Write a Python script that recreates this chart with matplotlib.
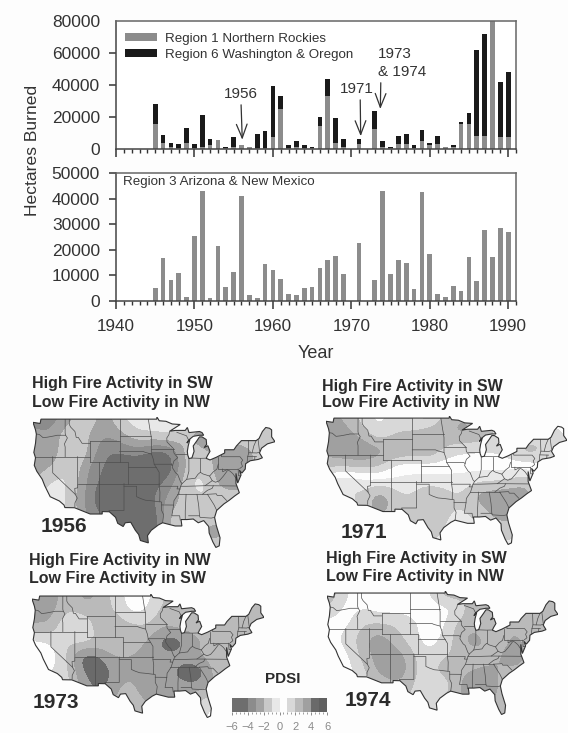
import numpy as np
import matplotlib
matplotlib.use("Agg")
import matplotlib.pyplot as plt
from matplotlib.colors import ListedColormap, BoundaryNorm
from matplotlib.patches import Polygon

plt.rcParams["font.family"] = ["Liberation Sans", "DejaVu Sans"]

W, H = 568, 733
TEXT = "#333333"

# burned area, 1945-1990
years = list(range(1945, 1991))
region1 = [15600, 3500, 1000, 800, 4000, 500, 1000, 2500, 5400, 800,
           1000, 2300, 1400, 500, 500, 7300, 24800, 800, 1200, 500,
           500, 14500, 33300, 3500, 1000, 0, 2900, 0, 12500, 1000,
           500, 3100, 3300, 500, 4800, 2300, 3100, 1000, 1000, 15600,
           15400, 8300, 8100, 80000, 7300, 7300]
region6 = [12400, 5200, 3000, 2300, 8900, 2600, 20200, 4000, 0, 400,
           6500, 0, 0, 8900, 10500, 32300, 8200, 1900, 3600, 1800,
           1000, 5300, 10400, 16100, 5000, 0, 3600, 0, 11000, 3800,
           900, 5000, 6300, 2000, 7300, 1400, 5000, 0, 1700, 1300,
           7100, 53600, 63600, 0, 34700, 40700]
region3 = [5200, 16700, 8300, 10900, 1600, 25300, 43100, 1200, 21400, 5600,
           11200, 41000, 2300, 1000, 14500, 12000, 8600, 2900, 2200, 5100,
           5600, 12900, 16100, 17400, 10400, 0, 22700, 0, 8100, 42800,
           10400, 16000, 14800, 4800, 42600, 18200, 2700, 1600, 5900, 3800,
           17300, 7700, 27600, 17000, 28500, 27100]

# PDSI on a coarse lon/lat grid
grid_lon = [-124, -120, -116, -112, -108, -104, -100, -96, -92, -88, -84, -80, -76, -72, -68]
grid_lat = [49, 46, 43, 40, 37, 34, 31, 28, 25]
pdsi_1956 = [
    [-3.5, -3.5, -2.5, -0.5, -3, -1, -0.5, -0.5, -0.5, -1, -1, -1, -1, -1, -1],
    [-2.5, -3, -0.5, -2, -3, -2.5, -1, -1, -0.5, -2, -3, -2, -1, -1, -1],
    [-3, -3, -0.5, -1.5, -4, -4, -3.5, -4.5, -4.5, -1, -2, -2, -3, -2, -1],
    [-2.5, -2, -0.5, -3, -4, -5, -5, -5, -5, -1.5, -1, -3, -3, -2, -1],
    [-2, -0.5, -1, -3, -4.5, -5, -5, -4.5, -3.5, -1, -0.5, -2.5, -3, -2, -1],
    [-0.5, -0.5, -1, -3.5, -5, -5, -5.5, -4, -2.5, -1.5, -1, -1, -1, -1, -1],
    [-0.5, -0.5, -1, -3, -4, -5, -5.5, -5, -1.5, -1.5, -1.5, -1.5, -1, -1, -1],
    [-0.5, -0.5, -1, -3, -4, -5, -5.5, -5, -1.5, -1.5, -2, -3, -1, -1, -1],
    [-0.5, -0.5, -1, -3, -4, -5, -5, -5, -1.5, -1.5, -2, -1, -1, -1, -1],
]
pdsi_1971 = [
    [3, 3, 1.5, 0.5, 1.5, 0.5, 0.5, 2.5, 3, 2.5, 2, 1, 1, 1, 0.5],
    [3.5, 3.5, 2.5, 1, 2, 2.5, 3, 3, 3.5, 3, 2, 1, 1, 1.5, 1],
    [3.5, 3.9, 4.3, 3.5, 3.5, 3, 3.5, 1.5, 1, 1, 1, 2, 3, 2, 1],
    [2.5, 2.5, 2.5, 2.5, 0.5, 0.5, 0.5, 0.5, 0.5, 0.5, 0.5, 0.5, 0.5, 1, 1],
    [-0.5, -1.5, -0.5, -0.5, -0.2, -0.5, -0.5, -0.5, -0.5, -1, -1, -1.5, -2, -0.5, -0.5],
    [-0.5, -1, -1, -3.2, -1.5, -1, -2.5, -1.5, -1, -2.8, -2.9, -2.9, -2.5, -0.5, -0.5],
    [-0.5, -0.5, -1, -2.8, -1, -1, -1.5, -1, -0.8, -1, -2.8, -2.5, -0.5, -0.5, -0.5],
    [-0.5, -0.5, -1, -1, -1, -1, -1, -1, -0.8, -1, -1, -2, -0.5, -0.5, -0.5],
    [-0.5, -0.5, -1, -1, -1, -1, -1, -1, -0.8, -1, -1, -0.5, -0.5, -0.5, -0.5],
]
pdsi_1973 = [
    [3.9, 3.9, 2, 3.5, 3, 1.5, 0.5, 0.5, 2, 2.5, 2, 2, 2, 2, 2],
    [3.5, 3.5, 2, 2.5, 2.5, 2, 0.5, 1, 2.5, 2.5, 2.5, 2, 2, 2.5, 2.5],
    [3, 3, 0.5, 0.5, 3, 3, 2.5, 2, 3, 2.5, 2.5, 3, 3, 2.5, 2.5],
    [0.5, 1, 2, 1.5, 2, 1.5, 2.5, 3, 4.8, 4.8, 3, 3, 3, 3, 3],
    [0.5, 0.3, 2, 5, 4.5, 3, 3, 3.5, 3.5, 3.5, 3, 2.5, 2, 2, 2],
    [1, 1, 1.5, 4.2, 4.5, 3.9, 3.5, 3.5, 3.5, 4.4, 5.5, 3, 2, 2, 2],
    [1, 1, 1.5, 3.5, 4.5, 3.5, 2, 5, 3.5, 3.5, 3.5, 3, 2, 2, 2],
    [1, 1, 1.5, 3, 3, 3, 1.5, 3, 3, 2.5, 2, 1, 1, 1, 1],
    [1, 1, 1.5, 3, 3, 3, 2, 3, 3, 2.5, 2, 0.3, 1, 1, 1],
]
pdsi_1974 = [
    [3, 1, 0.5, 0.5, 0.5, 0.5, 0.5, 2.5, 3, 2, 2, 2, 2, 2, 2.5],
    [2, 0.5, 1, 0.5, 0.5, 0.5, 0.5, 0.5, 0.8, 3, 2.5, 2, 2, 2.5, 3],
    [0.5, 0.5, 2, 2, 2, 1.5, 0.5, 0.5, 2.5, 2.5, 2, 3, 3, 2.5, 2.5],
    [0.5, 1.5, 2.5, 3.9, 2.5, 1.5, 0.5, 1, 2.5, 3.9, 2.5, 3, 3, 2.5, 2.5],
    [0.5, 0.5, 2.5, 3.5, 3.9, 2.5, 1, 1.5, 2.5, 2.5, 3, 3, 3.5, 2, 2],
    [0.5, 0.5, 1.5, 3.5, 3.9, 3, 1, 3, 2.5, 3, 3, 3, 3, 2, 2],
    [0.5, 0.5, 1.5, 2, 3, 2.5, 0.8, 0.8, 3, 3.9, 3.5, 2.5, 2, 2, 2],
    [0.5, 0.5, 1, 1, 1.5, 2, 0.8, 2, 3, 3, 3, 3, 2, 2, 2],
    [0.5, 0.5, 1, 1, 1.5, 2, 1, 2, 3, 3, 2.5, 2, 2, 2, 2],
]

pdsi_levels = list(range(-6, 7))
pdsi_colors = ["#6e6e6e", "#6e6e6e", "#8c8c8c", "#a2a2a2", "#c8c8c8", "#e8e8e8",
               "#fdfdfd", "#d8d8d8", "#bababa", "#a0a0a0", "#6a6a6a", "#606060"]

# lon, lat outline of the lower 48
us_outline = [
    (-124.7, 48.4), (-123.0, 48.2), (-122.8, 49.0), (-95.2, 49.0), (-95.15, 49.4), (-94.6, 48.7),
    (-93.0, 48.6), (-91.5, 48.1), (-89.6, 48.0), (-92.1, 46.75), (-90.8, 46.9), (-88.4, 46.9),
    (-87.9, 47.45), (-87.5, 46.5), (-85.0, 46.7), (-84.4, 46.5), (-84.0, 46.0), (-85.0, 46.0),
    (-86.5, 45.8), (-87.6, 45.1), (-88.0, 44.55), (-87.3, 45.2), (-87.7, 44.0), (-87.9, 43.0),
    (-87.8, 42.3), (-87.5, 41.65), (-86.8, 41.8), (-86.3, 43.0), (-86.5, 44.0), (-85.6, 45.0),
    (-85.0, 45.7), (-84.4, 45.7), (-83.4, 45.2), (-83.3, 44.3), (-83.9, 43.7), (-83.0, 44.05),
    (-82.5, 43.0), (-83.1, 42.2), (-83.4, 41.7), (-82.5, 41.4), (-81.0, 41.9), (-79.0, 42.7),
    (-79.0, 43.3), (-76.8, 43.3), (-76.2, 44.0), (-75.0, 45.0), (-71.5, 45.0), (-70.8, 45.4),
    (-70.0, 46.7), (-69.2, 47.45), (-68.3, 47.3), (-67.8, 47.0), (-67.8, 45.7), (-67.0, 44.8),
    (-68.8, 44.4), (-70.2, 43.6), (-70.7, 42.7), (-70.0, 41.8), (-71.0, 41.5), (-72.9, 41.25),
    (-74.0, 40.7), (-74.1, 39.7), (-74.9, 38.95), (-75.5, 39.5), (-75.1, 38.6), (-75.9, 37.1),
    (-76.3, 38.9), (-76.3, 37.0), (-75.5, 35.3), (-76.6, 34.7), (-77.9, 33.9), (-79.2, 33.2),
    (-80.9, 32.0), (-81.4, 30.7), (-81.0, 29.2), (-80.1, 26.9), (-80.3, 25.4), (-81.1, 25.1),
    (-81.8, 26.1), (-82.7, 27.8), (-82.8, 29.0), (-84.0, 30.1), (-85.3, 29.7), (-86.5, 30.4),
    (-88.0, 30.3), (-89.4, 30.3), (-89.2, 29.1), (-90.8, 29.1), (-93.8, 29.7), (-94.8, 29.3),
    (-96.5, 28.3), (-97.4, 27.3), (-97.2, 25.95), (-99.1, 26.4), (-99.5, 27.5), (-100.3, 28.3),
    (-101.4, 29.8), (-102.7, 29.7), (-103.2, 29.0), (-104.5, 29.6), (-105.0, 30.7), (-106.5, 31.75),
    (-108.2, 31.78), (-108.2, 31.33), (-111.07, 31.33), (-114.8, 32.5), (-117.1, 32.53), (-117.3, 33.0),
    (-118.4, 33.75), (-120.6, 34.55), (-121.9, 36.6), (-122.5, 37.8), (-123.8, 39.3), (-124.4, 40.4),
    (-124.1, 41.8), (-124.5, 42.8), (-124.1, 44.5), (-123.9, 46.2), (-124.1, 47.0),
]

state_lines = [
    [(-124, 46.25), (-123.2, 46.15), (-122.3, 45.55), (-121.2, 45.65), (-119.3, 45.93), (-118.98, 46), (-116.92, 46)],
    [(-117.03, 49), (-117.04, 46.4), (-116.92, 46), (-116.5, 45.5), (-117.2, 44.4), (-117.03, 43.8), (-117.03, 42)],
    [(-124.2, 42), (-111.05, 42)],
    [(-120, 42), (-120, 39), (-114.63, 35), (-114.15, 34.3), (-114.7, 33.4), (-114.72, 32.7)],
    [(-114.05, 42), (-114.05, 36.2), (-114.75, 36.1), (-114.63, 35)],
    [(-114.05, 37), (-94.62, 37)],
    [(-116.05, 49), (-116.05, 48), (-115.7, 47.5), (-114.7, 46.7), (-114.4, 45.6), (-113.9, 45.6), (-113, 44.5), (-111.05, 44.5)],
    [(-111.05, 45), (-104.05, 45)],
    [(-111.05, 45), (-111.05, 41)],
    [(-111.05, 41), (-102.05, 41), (-102.05, 37)],
    [(-104.05, 49), (-104.05, 41)],
    [(-104.05, 45.94), (-96.56, 45.94)],
    [(-104.05, 43), (-98.5, 43), (-97.9, 42.8), (-96.45, 42.5)],
    [(-102.05, 40), (-95.3, 40)],
    [(-109.05, 41), (-109.05, 31.33)],
    [(-103, 37), (-103, 32), (-106.6, 32), (-106.5, 31.75)],
    [(-103, 36.5), (-100, 36.5), (-100, 34.56), (-99, 34.2), (-97.9, 33.9), (-96.5, 33.8), (-94.5, 33.6)],
    [(-94.62, 37), (-94.62, 36.5), (-94.43, 35.4), (-94.48, 33.64), (-94.04, 33.55), (-94.04, 32), (-93.55, 31.2), (-93.8, 29.7)],
    [(-94.04, 33.02), (-91.17, 33), (-91.6, 31), (-89.73, 31), (-89.6, 30.2)],
    [(-94.62, 36.5), (-90.15, 36.5), (-90.37, 36), (-89.7, 36), (-90.1, 35), (-91.1, 33.8), (-91.17, 33)],
    [(-97.2, 49), (-96.8, 47), (-96.56, 45.94), (-96.45, 45.3), (-96.45, 42.5), (-96, 41.5), (-95.8, 40.6), (-95.3, 40), (-94.62, 39.1), (-94.62, 37)],
    [(-95.8, 40.6), (-91.7, 40.6), (-91.4, 40.4)],
    [(-96.45, 43.5), (-91.2, 43.5)],
    [(-92.1, 46.75), (-92.3, 46.1), (-92.8, 45.5), (-92.75, 44.75), (-91.2, 43.5), (-91.1, 42.7), (-90.2, 41.8), (-91.1, 41.2), (-91.4, 40.4),
     (-91.5, 40), (-90.7, 39), (-90.2, 38.7), (-89.5, 37.3), (-89.15, 37), (-89.5, 36.5), (-89.7, 36)],
    [(-90.6, 42.5), (-87.8, 42.5)],
    [(-90.4, 46.55), (-88.1, 45.9), (-87.6, 45.1)],
    [(-87.53, 41.7), (-87.53, 39.3), (-87.9, 38.2), (-88.05, 37.8)],
    [(-89.15, 37), (-88.05, 37.8), (-87, 37.9), (-86, 38), (-85.4, 38.7), (-84.8, 39.1), (-84.2, 38.8), (-82.6, 38.4), (-81.7, 39.2), (-80.85, 39.7), (-80.52, 40.64)],
    [(-84.8, 41.7), (-84.8, 39.1)],
    [(-87, 41.76), (-84.8, 41.7), (-83.45, 41.73)],
    [(-80.52, 42), (-80.52, 39.72), (-75.79, 39.72)],
    [(-79.76, 42.27), (-79.76, 42), (-75.35, 42), (-74.7, 41.36), (-75.1, 40.9), (-74.75, 40.2), (-75.4, 39.8)],
    [(-75.79, 39.72), (-75.7, 38.46), (-75.05, 38.45)],
    [(-79.48, 39.72), (-79.48, 39.2), (-78.4, 39.6), (-77.7, 39.3), (-77.05, 38.85), (-76.3, 38)],
    [(-82.6, 38.4), (-81.97, 37.54), (-81.2, 37.25), (-80.3, 37.5), (-79.3, 38.4), (-78.35, 39.4)],
    [(-81.97, 37.54), (-83.68, 36.6)],
    [(-89.5, 36.5), (-88.05, 36.5), (-83.68, 36.6), (-81.7, 36.59), (-75.9, 36.55)],
    [(-81.7, 36.59), (-82, 36.1), (-83.1, 35.75), (-84.3, 35)],
    [(-90.3, 35), (-83.1, 35)],
    [(-88.2, 35), (-88.4, 31.9), (-88.4, 30.3)],
    [(-85.6, 35), (-85.18, 32.8), (-85, 31)],
    [(-87.6, 31), (-85, 31), (-84.86, 30.7), (-82.2, 30.57), (-81.5, 30.7)],
    [(-83.1, 35), (-81, 35.1), (-80.8, 34.8), (-79.7, 34.8), (-78.55, 33.85)],
    [(-83.1, 35), (-81.5, 33), (-80.9, 32)],
    [(-73.35, 45), (-73.25, 42.75), (-73.5, 42.05), (-73.65, 41)],
    [(-73.25, 42.75), (-71.3, 42.7), (-70.8, 42.85)],
    [(-71.5, 45), (-72.05, 44), (-72.46, 42.73)],
    [(-71.05, 45.3), (-70.7, 43.1)],
    [(-73.5, 42.05), (-71.4, 42)],
    [(-71.8, 42), (-71.85, 41.3)],
]


def px_axes(left, top, right, bottom):
    return fig.add_axes([left / W, 1 - bottom / H, (right - left) / W, (bottom - top) / H])


def fig_text(x, y, s, **kw):
    fig.text(x / W, 1 - y / H, s, **kw)


def style_bar_axes(ax, ymax, ystep):
    ax.set_xlim(1940, 1991)
    ax.set_ylim(0, ymax)
    ax.set_xticks(range(1940, 2000, 10))
    ax.set_xticks(range(1940, 1992), minor=True)
    ax.set_yticks(range(0, ymax + 1, ystep))
    ax.tick_params(axis="y", labelsize=12.5, length=4.7, width=1.1, color="#333333", labelcolor=TEXT, pad=6.8)
    ax.tick_params(axis="x", which="major", labelsize=12.3, length=5.5, width=1.1, color="#333333", labelcolor=TEXT, pad=7.5)
    ax.tick_params(axis="x", which="minor", length=2.8, width=1.0, color="#333333")
    for side in ax.spines:
        ax.spines[side].set_linewidth(1.1)
        ax.spines[side].set_color("#444444")
    ax.spines["top"].set_color("#666666")
    ax.spines["right"].set_color("#666666")


fig = plt.figure(figsize=(W / 100, H / 100), dpi=100, facecolor="#fdfdfd")

# burned area panels
ax_top = px_axes(116, 21, 516, 149)
ax_top.bar(years, region1, width=0.6, color="#8c8c8c", label="Region 1 Northern Rockies")
ax_top.bar(years, region6, width=0.6, bottom=region1, color="#1a1a1a", label="Region 6 Washington & Oregon")
style_bar_axes(ax_top, 80000, 20000)
ax_top.tick_params(axis="x", which="both", labelbottom=False)
ax_top.yaxis.get_major_ticks()[0].tick1line.set_visible(False)
ax_top.yaxis.get_major_ticks()[-1].tick1line.set_visible(False)
ax_top.legend(loc="upper left", bbox_to_anchor=(0.012, 0.94), frameon=False, fontsize=9.6, labelcolor=TEXT,
              handlelength=2.4, handleheight=0.5, handletextpad=0.65, labelspacing=0.3, borderpad=0.3, borderaxespad=0)

ax_top.annotate("1956", xy=(1956.1, 5800), xytext=(1955.9, 30200), ha="center", va="bottom", fontsize=11, color=TEXT,
                arrowprops=dict(arrowstyle="->,head_width=0.35,head_length=0.9", color="#333333", lw=0.9, shrinkA=1, shrinkB=0))
ax_top.annotate("1971", xy=(1971.2, 8000), xytext=(1970.7, 33300), ha="center", va="bottom", fontsize=11, color=TEXT,
                arrowprops=dict(arrowstyle="->,head_width=0.35,head_length=0.9", color="#333333", lw=0.9, shrinkA=1, shrinkB=0,
                                relpos=(0.6, 0)))
ax_top.annotate("1973\n& 1974", xy=(1973.7, 25000), xytext=(1973.4, 44000), ha="left", va="bottom", fontsize=11, color=TEXT,
                linespacing=1.3,
                arrowprops=dict(arrowstyle="->,head_width=0.35,head_length=0.9", color="#333333", lw=0.9, shrinkA=1, shrinkB=0,
                                relpos=(0.06, 0)))

ax_low = px_axes(116, 173, 516, 301)
ax_low.bar(years, region3, width=0.6, color="#8c8c8c")
style_bar_axes(ax_low, 50000, 10000)
ax_low.text(0.017, 0.93, "Region 3 Arizona & New Mexico", transform=ax_low.transAxes, fontsize=9.6, color=TEXT, va="center")

fig_text(316, 353, "Year", fontsize=13, color=TEXT, ha="center", va="center")
fig_text(33, 150, "Hectares Burned", fontsize=12.6, color=TEXT, ha="center", va="center", rotation=90)

# drought maps
cmap = ListedColormap(pdsi_colors)
norm = BoundaryNorm(pdsi_levels, cmap.N, clip=True)


def draw_map(box, values):
    ax = px_axes(*box)
    outline = Polygon(us_outline, closed=True, facecolor="none", edgecolor="#333333", linewidth=0.8, zorder=4)
    ax.add_patch(outline)
    extent = (grid_lon[0] - 2, grid_lon[-1] + 2, grid_lat[-1] - 1.5, grid_lat[0] + 1.5)
    im = ax.imshow(np.array(values), extent=extent, origin="upper", aspect="auto", cmap=cmap, norm=norm,
                   interpolation="bicubic", interpolation_stage="data")
    im.set_clip_path(outline)
    for line in state_lines:
        lon, lat = zip(*line)
        ax.plot(lon, lat, color="#4d4d4d", linewidth=0.5, zorder=3, clip_path=outline)
    ax.set_xlim(-124.7, -67)
    ax.set_ylim(25, 49.4)
    ax.axis("off")


draw_map((33, 417, 275, 548), pdsi_1956)
draw_map((326, 416, 567, 545), pdsi_1971)
draw_map((32, 594, 264, 718), pdsi_1973)
draw_map((327, 591, 558, 715), pdsi_1974)

map_titles = [
    (32, 383, 402, "High Fire Activity in SW", "Low Fire Activity in NW"),
    (322, 386, 403, "High Fire Activity in SW", "Low Fire Activity in NW"),
    (29, 561, 579, "High Fire Activity in NW", "Low Fire Activity in SW"),
    (326, 559, 577, "High Fire Activity in SW", "Low Fire Activity in NW"),
]
for x, y1, y2, line1, line2 in map_titles:
    fig_text(x, y1, line1, fontsize=11.5, fontweight="bold", color="#2b2b2b", va="center")
    fig_text(x, y2, line2, fontsize=11.5, fontweight="bold", color="#2b2b2b", va="center")

map_years = [(41, 527, "1956"), (341, 533, "1971"), (33, 702, "1973"), (345, 700, "1974")]
for x, y, s in map_years:
    fig_text(x, y, s, fontsize=15, fontweight="bold", color="#2b2b2b", va="center")

# PDSI scale
cax = px_axes(232, 698, 327, 712)
cb = fig.colorbar(plt.cm.ScalarMappable(norm=norm, cmap=cmap), cax=cax, orientation="horizontal", ticks=range(-6, 7, 2))
cb.set_ticklabels(["\u22126", "\u22124", "\u22122", "0", "2", "4", "6"])
cb.outline.set_visible(False)
cax.set_xticks(np.arange(-6, 6.1, 0.5), minor=True)
cax.tick_params(axis="x", which="major", labelsize=8, length=2.5, width=0.6, color="#777777", labelcolor="#8a8a8a", pad=5)
cax.tick_params(axis="x", which="minor", length=1.5, width=0.5, color="#777777")
fig_text(283, 679, "PDSI", fontsize=11, fontweight="bold", color="#2b2b2b", ha="center", va="center")

fig.savefig("out.png", dpi=100, facecolor=fig.get_facecolor())
